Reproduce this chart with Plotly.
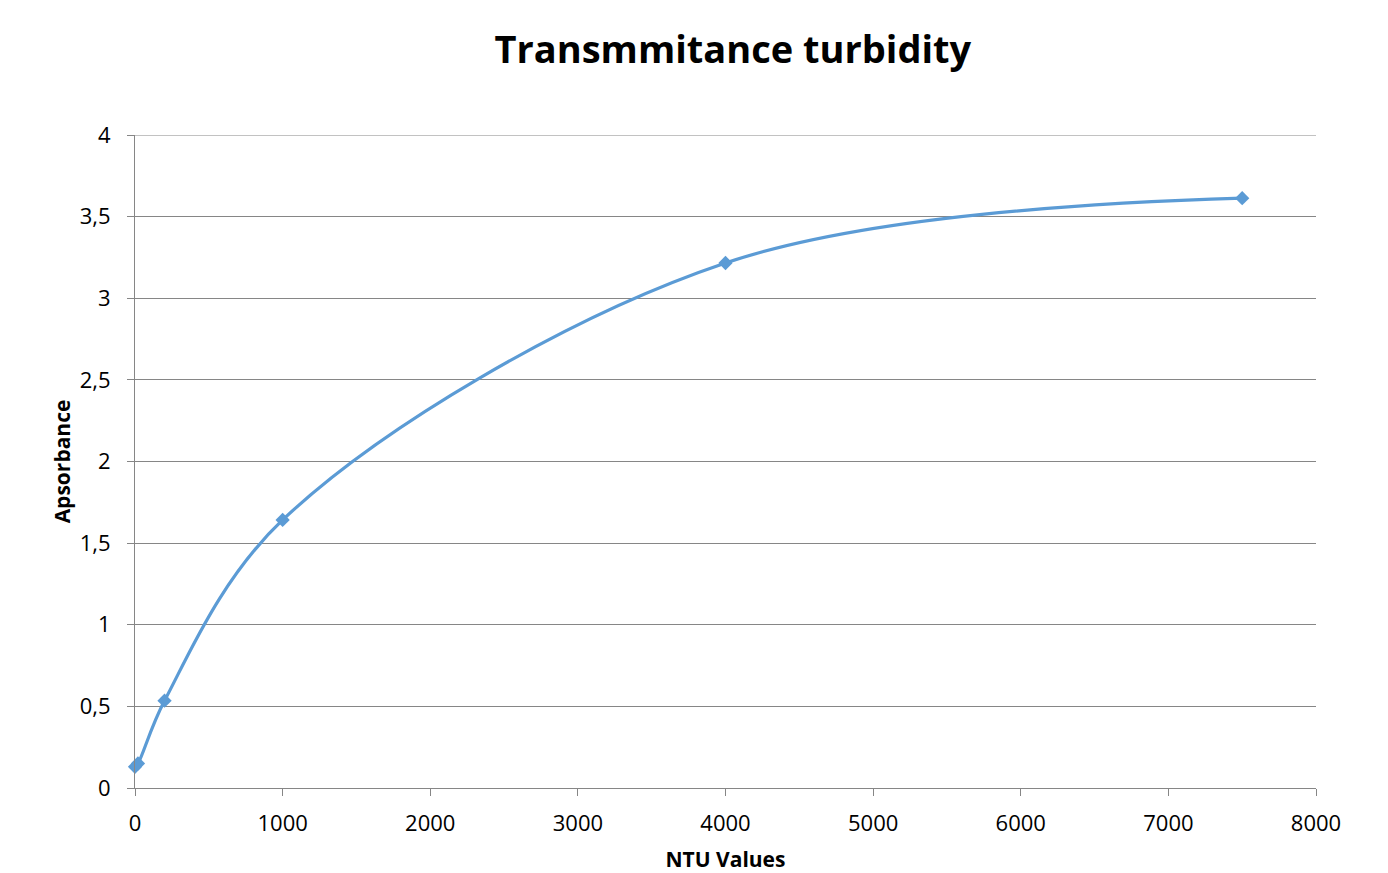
import plotly.graph_objects as go

ntu = [0, 20, 200, 1000, 4000, 7500]
absorbance = [0.13, 0.15, 0.535, 1.642, 3.216, 3.613]

fig = go.Figure()
fig.add_trace(go.Scatter(
    x=ntu, y=absorbance, mode="lines+markers",
    line=dict(color="#5B9BD5", width=3.2, shape="spline", smoothing=1.0),
    marker=dict(symbol="diamond", size=11, color="#5B9BD5"),
    cliponaxis=False,
    showlegend=False,
))
# top gridline at y = 4
fig.add_shape(type="line", xref="paper", x0=0, x1=1, yref="y", y0=4, y1=4,
              line=dict(color="#868686", width=1), layer="below")

font_family = "Open Sans, Liberation Sans, sans-serif"
fig.update_layout(
    width=1388, height=873,
    margin=dict(l=135, r=72, t=135, b=85),
    paper_bgcolor="white", plot_bgcolor="white",
    separators=",.",
    title=dict(text="<b>Transmmitance turbidity</b>", x=0.528, xanchor="center",
               y=0.943, yanchor="middle",
               font=dict(family=font_family, size=38, color="black")),
    font=dict(family=font_family, color="black"),
    xaxis=dict(range=[0, 8000], dtick=1000, showgrid=False, zeroline=False,
               showline=True, linecolor="#868686", linewidth=1,
               ticks="outside", ticklen=7, tickcolor="#868686",
               ticklabelstandoff=9, automargin=False,
               tickfont=dict(size=22, color="black"),
               title=dict(text="<b>NTU Values</b>", font=dict(size=21), standoff=22)),
    yaxis=dict(range=[0, 4], tickvals=[0, 0.5, 1, 1.5, 2, 2.5, 3, 3.5, 4],
               showgrid=True, gridcolor="#868686", gridwidth=1,
               zeroline=False, showline=True, linecolor="#868686", linewidth=1,
               ticks="outside", ticklen=7, tickcolor="#868686",
               ticklabelstandoff=12, automargin=False,
               tickfont=dict(size=22, color="black"),
               title=dict(text="<b>Apsorbance</b>", font=dict(size=21), standoff=3)),
)
fig.write_html("out.html")
